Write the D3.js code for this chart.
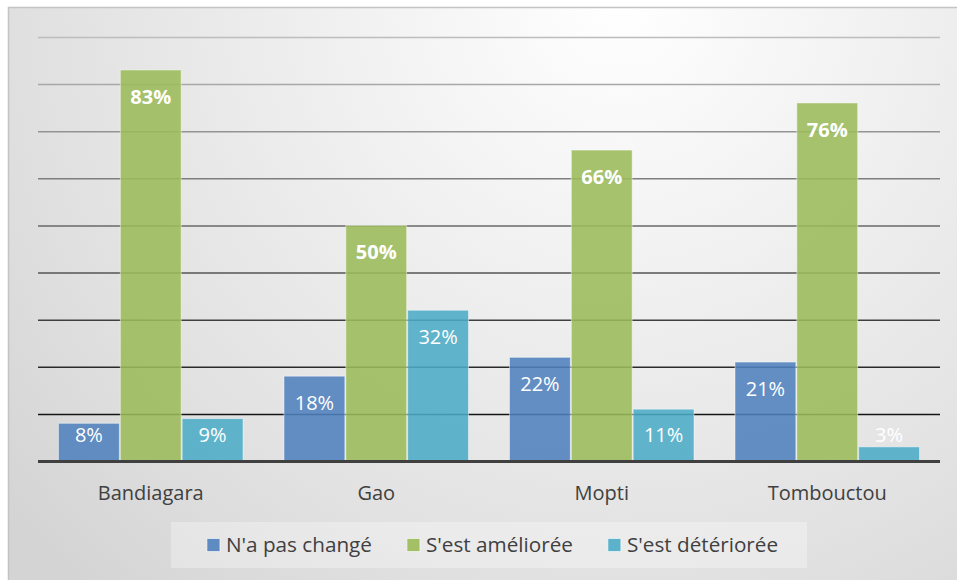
<!DOCTYPE html>
<html>
<head>
<meta charset="utf-8">
<script src="https://cdn.jsdelivr.net/npm/d3@7"></script>
<style>
  body { margin: 0; background: #fff; }
  text { font-family: "Open Sans", sans-serif; }
</style>
</head>
<body>
<script>
// data
var regions = ["Bandiagara", "Gao", "Mopti", "Tombouctou"]
var series = ["N'a pas changé", "S'est améliorée", "S'est détériorée"]
var unchanged = [8, 18, 22, 21]
var improved = [83, 50, 66, 76]
var worsened = [9, 32, 11, 3]
var yTicks = [0, 10, 20, 30, 40, 50, 60, 70, 80, 90]
var colors = ["#4f81bd", "#9bbb59", "#4bacc6"]

var width = 957, height = 580
var plotLeft = 38, plotRight = 940, plotBase = 461, plotTop = 37

var svg = d3.select("body").append("svg")
  .attr("width", width)
  .attr("height", height)

// background of the chart area
var defs = svg.append("defs")
var grad = defs.append("radialGradient")
  .attr("id", "bg")
  .attr("gradientUnits", "userSpaceOnUse")
  .attr("cx", 620).attr("cy", 0).attr("r", 800)
grad.append("stop").attr("offset", 0).attr("stop-color", "#ffffff")
grad.append("stop").attr("offset", 0.75).attr("stop-color", "#e0e0e0")
grad.append("stop").attr("offset", 1).attr("stop-color", "#d4d4d4")

svg.append("rect")
  .attr("x", 8.5).attr("y", 7.5)
  .attr("width", 960).attr("height", 600)
  .attr("fill", "url(#bg)")
  .attr("stroke", "#c4c4c4")
  .attr("stroke-width", 1.5)

var y = d3.scaleLinear().domain([0, 90]).range([plotBase, plotTop])
var x0 = d3.scaleBand().domain(regions).range([plotLeft, plotRight])
var x1 = d3.scaleBand().domain(series).range([20, x0.bandwidth() - 20])

// gridlines, lighter towards the top
var lineColor = d3.scaleLinear().domain([10, 90]).range(["#151515", "#bdbdbd"])
svg.append("g")
  .selectAll("line")
  .data(yTicks.filter(function(d) { return d > 0 }))
  .enter().append("line")
  .attr("x1", plotLeft).attr("x2", plotRight)
  .attr("y1", function(d) { return y(d) + 0.5 })
  .attr("y2", function(d) { return y(d) + 0.5 })
  .attr("stroke", function(d) { return lineColor(d) })
  .attr("stroke-width", 1.5)

var rows = regions.map(function(r, i) {
  return { region: r, values: [unchanged[i], improved[i], worsened[i]] }
})

var groups = svg.append("g")
  .selectAll("g")
  .data(rows)
  .enter().append("g")
  .attr("transform", function(d) { return "translate(" + x0(d.region) + ",0)" })

var cells = groups.selectAll("g")
  .data(function(d) {
    return d.values.map(function(v, k) { return { s: series[k], k: k, v: v } })
  })
  .enter().append("g")

cells.append("rect")
  .attr("x", function(d) { return x1(d.s) + 0.5 })
  .attr("width", x1.bandwidth() - 1)
  .attr("y", function(d) { return y(d.v) })
  .attr("height", function(d) { return plotBase - y(d.v) })
  .attr("fill", function(d) { return colors[d.k] })
  .attr("fill-opacity", 0.88)
  .attr("stroke", "rgba(255,255,255,0.45)")
  .attr("stroke-width", 1)

cells.append("text")
  .attr("x", function(d) { return x1(d.s) + x1.bandwidth() / 2 })
  .attr("y", function(d) { return Math.min(y(d.v) + 27, 435) + 7 })
  .attr("text-anchor", "middle")
  .attr("fill", "#fff")
  .attr("font-size", 20)
  .attr("font-weight", function(d) { return d.k == 1 ? "bold" : "normal" })
  .text(function(d) { return d.v + "%" })

// baseline
svg.append("line")
  .attr("x1", plotLeft).attr("x2", plotRight)
  .attr("y1", plotBase + 0.5).attr("y2", plotBase + 0.5)
  .attr("stroke", "#404040")
  .attr("stroke-width", 3)

// category labels
svg.append("g")
  .selectAll("text")
  .data(regions)
  .enter().append("text")
  .attr("x", function(d) { return x0(d) + x0.bandwidth() / 2 })
  .attr("y", 500)
  .attr("text-anchor", "middle")
  .attr("fill", "#404040")
  .attr("font-size", 20)
  .text(function(d) { return d })

// legend
svg.append("rect")
  .attr("x", 171).attr("y", 522)
  .attr("width", 636).attr("height", 46)
  .attr("fill", "#ffffff")
  .attr("fill-opacity", 0.3)

var legend = svg.append("g")
var items = legend.selectAll("g")
  .data(series)
  .enter().append("g")
items.append("rect")
  .attr("y", 538.5).attr("width", 13).attr("height", 13)
  .attr("fill", function(d, i) { return colors[i] })
  .attr("fill-opacity", 0.9)
  .attr("stroke", "rgba(255,255,255,0.6)")
items.append("text")
  .attr("x", 19).attr("y", 552)
  .attr("fill", "#404040")
  .attr("font-size", 20.7)
  .text(function(d) { return d })

var widths = []
items.select("text").each(function() { widths.push(19 + this.getComputedTextLength()) })
var gap = 35
var total = d3.sum(widths) + gap * (widths.length - 1)
var pos = 492.5 - total / 2
items.attr("transform", function(d, i) {
  var p = pos
  pos += widths[i] + gap
  return "translate(" + p + ",0)"
})
</script>
</body>
</html>
